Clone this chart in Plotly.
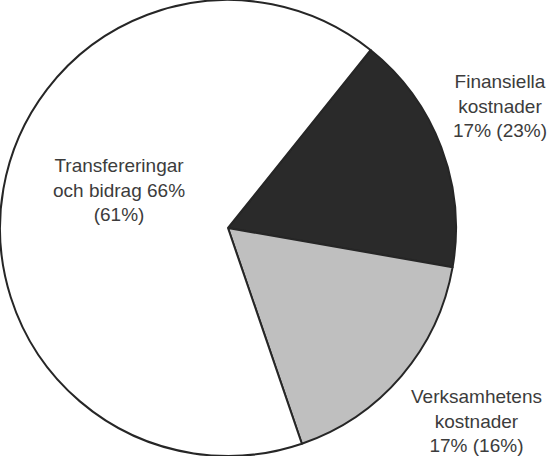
import plotly.graph_objects as go

# andelar av utgifterna (procent), ordning medurs från toppen av den mörka sektorn
labels = ["Finansiella kostnader", "Verksamhetens kostnader", "Transfereringar och bidrag"]
values = [17, 17, 66]
prev_values = [23, 16, 61]
label_text = [
    "Finansiella<br>kostnader<br>17% (23%)",
    "Verksamhetens<br>kostnader<br>17% (16%)",
    "Transfereringar<br>och bidrag 66%<br>(61%)",
]

W, H = 548, 456

fig = go.Figure()
fig.add_trace(go.Pie(
    labels=labels,
    values=values,
    sort=False,
    direction="clockwise",
    rotation=38.7,
    textinfo="none",
    hoverinfo="label+value",
    domain=dict(x=[0, 456 / W], y=[0, 1]),
    marker=dict(
        colors=["#2a2a2a", "#bcbcbc", "#ffffff"],
        line=dict(color="#262626", width=2),
        pattern=dict(
            shape=["", ".", ""],
            fgcolor="#8c8c8c",
            bgcolor="#e8e8e8",
            size=2,
            solidity=0.5,
        ),
    ),
    showlegend=False,
))

# etiketternas placering i pixlar
label_pos = [(500, 106), (476, 421), (119, 190)]
for txt, (px, py) in zip(label_text, label_pos):
    fig.add_annotation(
        x=px / W, y=1 - py / H, xref="paper", yref="paper",
        text=txt, showarrow=False, align="center",
        xanchor="center", yanchor="middle",
        font=dict(family="Liberation Sans, Arial", size=19, color="#3c3c3c"),
    )

fig.update_layout(
    width=W, height=H,
    margin=dict(l=0, r=0, t=0, b=0),
    paper_bgcolor="white",
    plot_bgcolor="white",
)

fig.write_html(
    "out.html",
    config={"displayModeBar": False},
    post_script="document.body.style.margin='0';document.body.style.overflow='hidden';",
)
